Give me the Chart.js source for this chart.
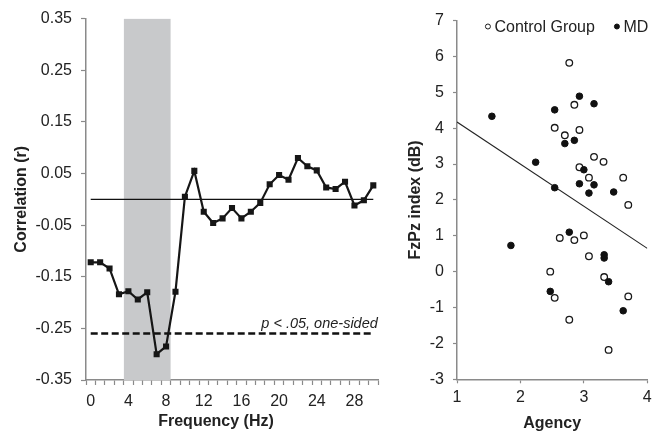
<!DOCTYPE html>
<html><head><meta charset="utf-8">
<script src="https://cdn.jsdelivr.net/npm/chart.js@4.4.0/dist/chart.umd.min.js"></script>
<style>
html,body{margin:0;padding:0;background:#fff;}
#wrap{position:relative;width:660px;height:434px;overflow:hidden;background:#fff;}
canvas{position:absolute;top:0;}
#c1{left:0;}
#c2{left:395px;}
</style></head><body>
<div id="wrap"><canvas id="c1" width="400" height="434"></canvas><canvas id="c2" width="265" height="434"></canvas></div>
<script>
// ---- Left panel: correlation by frequency ----
const frequencies = [0,1,2,3,4,5,6,7,8,9,10,11,12,13,14,15,16,17,18,19,20,21,22,23,24,25,26,27,28,29,30];
const correlations = [-0.122,-0.122,-0.134,-0.184,-0.178,-0.194,-0.180,-0.300,-0.285,-0.179,0.005,0.055,-0.024,-0.046,-0.037,-0.017,-0.037,-0.024,-0.007,0.029,0.047,0.038,0.080,0.064,0.056,0.023,0.020,0.034,-0.012,-0.002,0.027];
const referenceLevel = 0;
const significanceThreshold = -0.26;
const significanceLabel = 'p < .05, one-sided';
const bandRange = [3.5, 8.5];
const corrTicks = [-0.35,-0.25,-0.15,-0.05,0.05,0.15,0.25,0.35];
const freqTickLabels = [0,4,8,12,16,20,24,28];

// ---- Right panel: FzPz index vs agency ----
const controlAgency = [2.77,2.85,2.54,2.70,2.93,3.16,3.31,2.93,3.08,3.62,3.70,2.62,2.85,3.00,3.08,2.47,3.32,2.54,3.70,2.77,3.39];
const controlFzPz   = [5.82,4.65,4.01,3.80,3.95,3.20,3.06,2.91,2.62,2.62,1.86,0.94,0.88,1.01,0.43,0.00,-0.15,-0.73,-0.69,-1.34,-2.18];
const mdAgency = [1.55,2.93,3.16,2.54,2.70,2.85,2.24,3.00,2.93,3.16,2.54,3.08,3.47,2.77,1.85,3.32,3.32,3.39,2.47,3.62];
const mdFzPz   = [4.33,4.89,4.68,4.51,3.57,3.66,3.05,2.84,2.45,2.42,2.34,2.19,2.22,1.10,0.73,0.47,0.38,-0.28,-0.55,-1.09];
const fitAgency = [1, 4];
const fitFzPz = [4.17, 0.65];
const agencyTicks = [1,2,3,4];
const fzpzTicks = [-3,-2,-1,0,1,2,3,4,5,6,7];

const FONT = "'Liberation Sans', Arial, Helvetica, sans-serif";
Chart.defaults.font.family = FONT;
Chart.defaults.font.size = 16;
Chart.defaults.color = '#222';
const AXIS_GRAY = '#8a8a8a';

const xy = (xs, ys) => xs.map((x, i) => ({x: x, y: ys[i]}));
const nF = frequencies.length;

// tick positions for category-style x axis (marks between categories)
const freqTickPositions = [];
frequencies.forEach(f => { freqTickPositions.push(f - 0.5); freqTickPositions.push(f); });
freqTickPositions.push(frequencies[nF - 1] + 0.5);

const leftExtras = {
  id: 'leftExtras',
  afterDatasetsDraw(chart) {
    const {ctx, scales: {x, y}, chartArea} = chart;
    ctx.save();
    ctx.fillStyle = '#222';
    ctx.font = "italic 14.5px " + FONT;
    ctx.textAlign = 'right';
    ctx.textBaseline = 'alphabetic';
    ctx.fillText(significanceLabel, x.getPixelForValue(frequencies[nF - 1]) + 4.5, y.getPixelForValue(significanceThreshold) - 6);
    ctx.restore();
  },
  afterDraw(chart) {
    const {ctx, chartArea} = chart;
    ctx.save();
    ctx.fillStyle = '#222';
    ctx.font = "bold 16px " + FONT;
    ctx.textAlign = 'center';
    ctx.textBaseline = 'middle';
    ctx.fillText('Frequency (Hz)', chartArea.left + 130, 422);
    ctx.restore();
  }
};

new Chart(document.getElementById('c1'), {
  type: 'line',
  data: {
    datasets: [
      {
        label: 'band',
        data: [{x: bandRange[0], y: corrTicks[corrTicks.length - 1]}, {x: bandRange[1], y: corrTicks[corrTicks.length - 1]}],
        fill: 'start', backgroundColor: '#c8c9cb', borderWidth: 0, pointRadius: 0, order: 5
      },
      {
        label: 'zero',
        data: [{x: frequencies[0], y: referenceLevel}, {x: frequencies[nF - 1], y: referenceLevel}],
        borderColor: '#111', borderWidth: 1.3, pointRadius: 0, fill: false, order: 3
      },
      {
        label: 'threshold',
        data: [{x: frequencies[0], y: significanceThreshold}, {x: frequencies[nF - 1], y: significanceThreshold}],
        borderColor: '#111', borderWidth: 2.6, borderDash: [7, 3.5], pointRadius: 0, fill: false, order: 2
      },
      {
        label: 'Correlation',
        data: xy(frequencies, correlations),
        borderColor: '#161616', borderWidth: 2.2, fill: false, tension: 0,
        pointStyle: 'rect', pointRadius: 4.3, pointBackgroundColor: '#161616', pointBorderColor: '#161616', pointBorderWidth: 0,
        order: 1
      }
    ]
  },
  options: {
    responsive: false, animation: false,
    layout: {padding: {left: 0, right: 22, top: 18, bottom: 0}},
    plugins: {legend: {display: false}, tooltip: {enabled: false}},
    scales: {
      x: {
        type: 'linear', min: frequencies[0] - 0.5, max: frequencies[nF - 1] + 0.5,
        afterBuildTicks: s => { s.ticks = freqTickPositions.map(v => ({value: v})); },
        afterFit: s => { s.height = 54; },
        ticks: {
          autoSkip: false, maxRotation: 0, minRotation: 0, padding: 7,
          callback: v => freqTickLabels.includes(v) ? String(v) : ''
        },
        grid: {
          drawOnChartArea: false, drawTicks: true, tickLength: 5, tickWidth: 1.2,
          tickColor: c => (c.tick && Number.isInteger(c.tick.value)) ? 'rgba(0,0,0,0)' : AXIS_GRAY
        },
        border: {color: AXIS_GRAY, width: 1.5}
      },
      y: {
        type: 'linear', min: corrTicks[0], max: corrTicks[corrTicks.length - 1],
        afterBuildTicks: s => { s.ticks = corrTicks.map(v => ({value: v})); },
        afterFit: s => { s.width = 86; },
        ticks: {padding: 9, callback: v => v.toFixed(2)},
        grid: {drawOnChartArea: false, drawTicks: true, tickLength: 5, tickColor: AXIS_GRAY, tickWidth: 1.2},
        border: {color: AXIS_GRAY, width: 1.5},
        title: {display: true, text: 'Correlation (r)', font: {weight: 'bold', size: 16}, padding: {top: 12}}
      }
    }
  },
  plugins: [leftExtras]
});

const rightLegend = {
  id: 'rightLegend',
  afterDraw(chart) {
    const {ctx, chartArea} = chart;
    const ds = chart.data.datasets;
    ctx.save();
    ctx.font = "16px " + FONT;
    ctx.textBaseline = 'middle';
    ctx.textAlign = 'left';
    ctx.fillStyle = '#222';
    const y = 27.5;
    const md = ds[2], ctrl = ds[1];
    const mdW = ctx.measureText(md.label).width;
    const mdTextX = chartArea.right + 1 - mdW;
    const mdMark = mdTextX - 6.5;
    const ctrlW = ctx.measureText(ctrl.label).width;
    const ctrlTextX = mdMark - 22 - ctrlW;
    const ctrlMark = ctrlTextX - 6.5;
    ctx.fillText(md.label, mdTextX, y);
    ctx.fillText(ctrl.label, ctrlTextX, y);
    ctx.lineWidth = 1;
    ctx.beginPath(); ctx.arc(ctrlMark, y - 1, 2.5, 0, Math.PI * 2);
    ctx.fillStyle = ctrl.pointBackgroundColor; ctx.fill(); ctx.strokeStyle = ctrl.pointBorderColor; ctx.stroke();
    ctx.beginPath(); ctx.arc(mdMark, y - 1, 2.5, 0, Math.PI * 2);
    ctx.fillStyle = md.pointBackgroundColor; ctx.fill(); ctx.strokeStyle = md.pointBorderColor; ctx.stroke();
    ctx.restore();
  }
};

new Chart(document.getElementById('c2'), {
  type: 'scatter',
  data: {
    datasets: [
      {
        label: 'fit', data: xy(fitAgency, fitFzPz), showLine: true,
        borderColor: '#222', borderWidth: 1.1, pointRadius: 0, fill: false, order: 3
      },
      {
        label: 'Control Group', data: xy(controlAgency, controlFzPz),
        pointRadius: 3.3, pointBackgroundColor: '#ffffff', pointBorderColor: '#1a1a1a', pointBorderWidth: 1.3, order: 2
      },
      {
        label: 'MD', data: xy(mdAgency, mdFzPz),
        pointRadius: 3.3, pointBackgroundColor: '#111111', pointBorderColor: '#111111', pointBorderWidth: 1, order: 1
      }
    ]
  },
  options: {
    responsive: false, animation: false,
    layout: {padding: {left: 0, right: 12.7, top: 20.5, bottom: 0}},
    plugins: {legend: {display: false}, tooltip: {enabled: false}},
    scales: {
      x: {
        type: 'linear', min: agencyTicks[0], max: agencyTicks[agencyTicks.length - 1],
        afterBuildTicks: s => { s.ticks = agencyTicks.map(v => ({value: v})); },
        afterFit: s => { s.height = 54.7; },
        ticks: {padding: 5, maxRotation: 0},
        grid: {drawOnChartArea: false, drawTicks: true, tickLength: 4, tickColor: AXIS_GRAY, tickWidth: 1.2},
        border: {color: AXIS_GRAY, width: 1.5},
        title: {display: true, text: 'Agency', font: {weight: 'bold', size: 16}, padding: {bottom: 1}}
      },
      y: {
        type: 'linear', min: fzpzTicks[0], max: fzpzTicks[fzpzTicks.length - 1],
        afterBuildTicks: s => { s.ticks = fzpzTicks.map(v => ({value: v})); },
        afterFit: s => { s.width = 62; },
        ticks: {padding: 9},
        grid: {drawOnChartArea: false, drawTicks: true, tickLength: 4, tickColor: AXIS_GRAY, tickWidth: 1.2},
        border: {color: AXIS_GRAY, width: 1.5},
        title: {display: true, text: 'FzPz index (dB)', font: {weight: 'bold', size: 16}, padding: {top: 10.5}}
      }
    }
  },
  plugins: [rightLegend]
});
</script>
</body></html>
